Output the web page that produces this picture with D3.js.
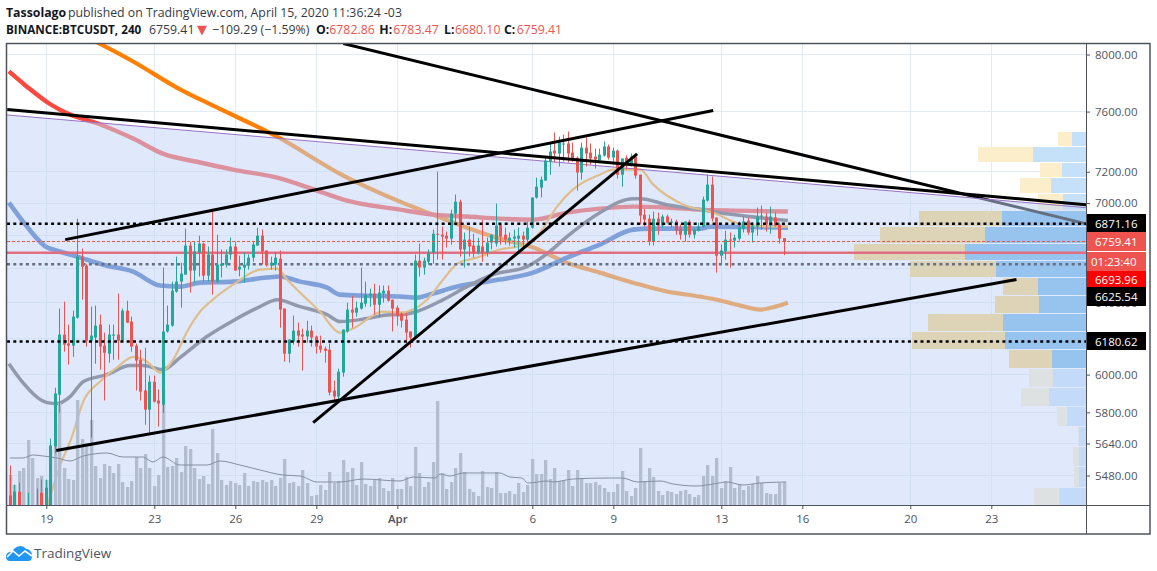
<!DOCTYPE html>
<html><head><meta charset="utf-8">
<script src="https://cdnjs.cloudflare.com/ajax/libs/d3/7.8.5/d3.min.js"></script>
<style>
html,body{margin:0;padding:0;background:#fff;overflow:hidden}
svg{display:block}
text{font-family:"Open Sans","Noto Sans",sans-serif}
</style></head><body>
<svg id="c" width="1157" height="571"></svg>
<script>
// ---------- candles (4h bars, first bar = 18 Mar 00:00) ----------
const opens=[
5382,5300,5401,5250,5200,5320,5230,5396,5250,5300,
5625,5893,6220,6170,6158,6315,6671,6617,6186,6203,
6276,6158,6114,6214,6220,6186,6355,6293,6158,6081,
5915,5814,5962,5862,5840,6237,6270,6465,6523,6564,
6738,6588,6696,6750,6558,6684,6523,6617,6623,6684,
6732,6594,6606,6617,6665,6738,6798,6708,6617,6623,
6659,6367,6114,6181,6242,6220,6209,6242,6209,6158,
6142,6136,5915,5883,6011,6237,6361,6344,6367,6395,
6441,6453,6389,6453,6470,6418,6372,6338,6304,6237,
6203,6647,6606,6641,6696,6810,6804,6798,6780,6934,
7009,6714,6774,6738,6696,6732,6696,6756,6750,6866,
6804,6768,6780,6780,6798,6774,6847,7035,7098,7143,
7266,7338,7319,7378,7385,7325,7292,7195,7358,7325,
7299,7273,7306,7365,7292,7338,7181,7292,7247,7299,
7181,6928,6903,6762,6903,6860,6916,6878,6885,6841,
6804,6885,6804,6829,6853,7016,7117,6910,6677,6702,
6774,6768,6780,6841,6891,6817,6853,6916,6916,6860,
6910,6866,6782.86];
const highs=[
5529,5435,5445,5320,5396,5330,5416,5460,5460,5665,
5930,6367,6407,6276,6355,6903,6720,6625,6378,6384,
6332,6231,6276,6276,6453,6367,6412,6321,6170,6136,
6147,5995,5995,5920,6606,6384,6523,6671,6635,6841,
6762,6762,6798,6755,6732,6965,6804,6714,6714,6786,
6762,6677,6696,6684,6762,6847,6835,6708,6671,6696,
6708,6367,6192,6327,6287,6253,6298,6270,6214,6214,
6153,6170,5968,6032,6248,6401,6441,6407,6606,6523,
6482,6511,6500,6500,6500,6418,6384,6344,6344,6237,
6684,6750,6665,6714,6835,7201,6853,6823,6959,7054,
7022,6817,6853,6810,6786,6897,6786,6804,6997,6866,
6847,6817,6835,6847,6823,6885,7035,7162,7169,7299,
7391,7458,7431,7444,7465,7391,7299,7391,7425,7385,
7352,7352,7398,7378,7358,7345,7286,7306,7319,7306,
7181,6965,6928,6947,6940,6928,6928,6903,6897,6866,
6885,6897,6847,6878,7041,7181,7169,6910,6744,6829,
6817,6804,6885,6916,6910,6878,6972,6984,6940,6978,
6940,6878,6783.47];
const lows=[
5250,5270,5250,5100,5150,5120,5180,5150,5200,5240,
5590,5798,6125,6054,6097,6310,6418,6153,5670,6059,
6027,5862,6065,6081,6081,6181,6287,6125,5915,5862,
5736,5690,5851,5726,5798,6231,6264,6459,6372,6564,
6459,6517,6553,6523,6523,6447,6517,6547,6606,6653,
6588,6553,6517,6594,6641,6738,6623,6611,6594,6588,
6259,6070,6065,6164,6153,6022,6175,6153,6114,6119,
6065,5889,5867,5856,5989,6231,6259,6321,6361,6378,
6378,6332,6321,6401,6407,6237,6270,6259,6175,6147,
6197,6553,6564,6623,6629,6653,6653,6726,6744,6878,
6671,6606,6671,6665,6684,6641,6671,6714,6732,6744,
6744,6738,6726,6684,6726,6756,6841,7028,7035,7143,
7181,7260,7234,7266,7260,7266,7079,7149,7234,7247,
7221,7260,7299,7279,7247,7156,7104,7214,7234,7156,
6866,6853,6738,6738,6804,6847,6872,6847,6804,6774,
6762,6786,6780,6823,6847,7009,6885,6576,6629,6653,
6606,6726,6768,6817,6804,6756,6798,6835,6823,6810,
6853,6750,6680.10];
const closes=[
5300,5401,5300,5200,5320,5200,5310,5250,5420,5630,
5899,6220,6164,6158,6321,6671,6611,6186,6214,6270,
6153,6119,6220,6220,6186,6355,6287,6153,6076,5909,
5814,5962,5856,5846,6237,6276,6470,6523,6570,6738,
6588,6702,6750,6558,6684,6523,6623,6629,6684,6732,
6588,6611,6623,6665,6744,6798,6702,6623,6635,6665,
6361,6114,6192,6242,6214,6209,6242,6203,6153,6136,
6130,5904,5883,6016,6248,6361,6344,6372,6401,6447,
6453,6389,6459,6470,6412,6367,6327,6298,6231,6203,
6647,6606,6647,6696,6810,6804,6792,6780,6934,7009,
6714,6774,6732,6696,6738,6696,6756,6804,6860,6792,
6774,6786,6792,6798,6774,6847,7035,7104,7149,7273,
7332,7319,7391,7385,7319,7286,7195,7358,7319,7286,
7279,7312,7365,7292,7338,7181,7286,7247,7299,7175,
6922,6897,6762,6903,6860,6916,6878,6885,6829,6804,
6885,6804,6835,6853,7022,7117,6903,6677,6708,6774,
6768,6786,6847,6885,6817,6860,6916,6922,6866,6916,
6860,6780,6759.41];
const volumes=[
30,20,34,37,65,47,27,29,25,55,
81,102,37,26,25,105,66,62,85,39,
27,41,39,32,41,23,18,24,48,37,
51,37,19,30,115,38,39,47,33,59,
56,37,26,29,21,76,52,25,20,24,
22,20,32,19,24,23,25,23,25,19,
27,46,22,23,19,35,22,9,10,20,
15,33,22,24,45,33,37,20,43,21,
19,25,27,17,14,27,16,16,28,19,
58,32,18,23,43,104,32,16,23,37,
52,33,16,13,9,34,18,17,33,12,
12,14,11,22,13,20,46,31,31,45,
26,37,24,25,35,19,35,27,22,22,
23,20,17,13,13,21,34,14,9,17,
57,24,37,28,14,10,14,13,11,14,
15,11,8,10,29,40,29,47,17,24,
38,17,21,15,19,21,29,22,12,11,
11,22,23];
// ---------- moving averages (bar position, value) ----------
const orangeBars=[16.6,19.3,27.3,37,45.9,59.3,74,86.6,93.9,101.5,108.8,116.2,123.7,131,138.4,145.9,153.3,157,162.2,166.6,170,172.8];
const orangeMA=[8130,8087,7950,7766,7628,7431,7175,7009,6928,6847,6780,6726,6635,6576,6517,6465,6436,6418,6384,6361,6378,6401];
const redBars=[-0.3,3.7,8.8,12.6,19.3,27.3,33.9,42.2,49.5,59.3,68.2,74,86.6,93.9,101.5,108.8,116.2,123.7,131,138.4,145.9,153.3,160.6,172.8];
const redMA=[7879,7772,7652,7589,7521,7418,7318,7260,7214,7162,7079,7022,6959,6928,6916,6903,6897,6940,6965,6978,6972,6959,6953,6947];
const blueBars=[-0.3,3.7,8.2,9.5,14.8,21.5,27.3,33.3,37.7,42.2,49.5,57,59.9,64.4,70.4,73.3,79.3,86.6,90.3,93.9,99.3,104.4,108.8,116.2,123.7,131,138.4,142.2,153.3,155.5,172.8];
const blueMA=[7003,6854,6726,6714,6671,6617,6582,6500,6494,6517,6523,6547,6553,6523,6488,6447,6441,6436,6430,6453,6494,6517,6535,6576,6665,6744,6835,6841,6841,6853,6847];
const greyBars=[-0.3,2.8,8.2,10.4,13.3,16.2,21.5,26.6,29.5,33.9,37.7,43.7,49.5,55.5,59.3,64.4,70.4,73.3,79.3,84.4,86.6,90.3,96.2,101.5,107.3,114.8,119.9,123.7,131,138.4,140,145.9,153.3,160.6,172.8];
const greyMA=[6059,5957,5851,5846,5883,5962,6000,6049,6049,6027,6092,6209,6298,6378,6418,6378,6332,6293,6310,6332,6332,6350,6418,6494,6565,6611,6702,6792,6940,7028,7028,6990,6959,6928,6891];
const tanBars=[7.5,8.4,11,13.7,16.2,19.9,23.7,27.3,30.4,33.3,36.2,39.3,42.2,45,49.5,55.5,59.3,61.5,64.4,68.8,73.3,76.1,82.8,86.6,92.6,96.2,99.3,103.7,108.8,113.9,117.7,121.5,125,131,133.9,140,142.9,149.6,156.3,160.6,163.7,172.8];
const tanMA=[5260,5339,5524,5675,5856,5962,6038,6097,6070,6011,6081,6237,6350,6418,6505,6594,6600,6535,6459,6350,6231,6253,6350,6344,6418,6535,6629,6665,6714,6738,6817,6978,7085,7181,7214,7214,7117,6990,6940,6885,6860,6853];
const volMABars=[-0.1,2.8,5,7.3,10.4,13.3,16.2,21.5,25,29.5,31.7,33.9,37.7,43.7,46.6,51,55.5,60.6,64.4,68.2,73.3,78.4,86.6,89.5,94.4,95.5,97.7,100.6,108.8,111,113.7,115,119.3,120.6,125,132.6,135.9,139.5,144.4,147.3,152.6,156.2,159.3,162.8,166.6,172.4];
const volMA=[47,47,50,49,47,44,49,52,48,48,43,48,40,40,44,40,35,30,29,23,23,26,24,28,27,31,29,32,32,28,27,22,24,23,26,27,27,23,24,21,19,21,23,20,22,23];
// ---------- volume profile ----------
const vpTop=[7470,7368,7266,7163,7061,6958,6856,6754,6651,6549,6446,6344,6241,6139,6037,5934,5832,5729,5627,5525,5422];
const vpBottom=[7368,7266,7163,7061,6958,6856,6754,6651,6549,6446,6344,6241,6139,6037,5934,5832,5729,5627,5525,5422,5320];
const vpUp=[14,53,24,35,23,84,101,121,90,48,47,83,81,34,33,37,19,7,7,7,27];
const vpDown=[14,55,22,31,25,83,105,111,86,35,44,75,93,43,24,28,10,1,6,5,25];
const vpValueArea=[0,0,0,0,0,1,1,1,1,1,1,1,1,1,0,0,0,0,0,0,0];
// ---------- drawn lines: [bar, price] ----------
const trendTop=[[-0.7,7614],[239.1,6990]];
const pitchEdge=[[-0.7,7577],[239.1,6971]];
const trendFall=[[74,8079],[239.1,6871.16]];
const trendRiseA=[[12.2,6774],[156.2,7607]];
const trendRiseB=[[10.2,5604],[223.6,6535]];
const trendRiseC=[[67.3,5747],[139.3,7316]];
const levelBlack=[6871.16,6180.62];
const levelGrey=[6625.54];
const levelRed=[6693.96];
const lastPrice=6759.41;
// ---------- axes ----------
const priceTicks=[8000,7600,7200,7000,6400,6000,5800,5640,5480];
const gridPrices=[8000,7600,7200,7000,6800,6600,6400,6200,6000,5800,5640,5480];
const dateBars=[8,32,50,68,86,116,134,158,176,200,218];
const dateLabels=["19","23","26","29","Apr","6","9","13","16","20","23"];
const tags=[
 {t:"6871.16",fill:"#000000",top:214,bot:232},
 {t:"6759.41",fill:"#ef5350",top:232,bot:251},
 {t:"01:23:40",fill:"#ef5350",top:252,bot:271},
 {t:"6693.96",fill:"#ff0000",top:271,bot:287},
 {t:"6625.54",fill:"#000000",top:287,bot:306},
 {t:"6180.62",fill:"#000000",top:332,bot:350}];

const L=7,R=1086,T=44,B=505,FR=1150,FB=534;
const svg=d3.select("#c");
const x=d3.scaleLinear().domain([8,218]).range([46.3,991.3]);
const y=d3.scaleLog().domain([8000,5480]).range([54.5,475.5]);
const v=d3.scaleLinear().domain([0,115]).range([505,390]);
const vp=d3.scaleLinear().domain([0,240]).range([R,R-240]);
const axisColor="#50535e", textColor="#50535e";

svg.append("clipPath").attr("id","plot").append("rect").attr("x",L).attr("y",T).attr("width",R-L).attr("height",B-T);
const g=svg.append("g").attr("clip-path","url(#plot)");
// grid
g.selectAll(".gv").data(dateBars).join("line").attr("x1",d=>Math.round(x(d))+.5).attr("x2",d=>Math.round(x(d))+.5).attr("y1",T).attr("y2",B).attr("stroke","#e1ecf2");
g.selectAll(".gh").data(gridPrices).join("line").attr("x1",L).attr("x2",R).attr("y1",d=>Math.floor(y(d))+.5).attr("y2",d=>Math.floor(y(d))+.5).attr("stroke","#e1ecf2");
// volume profile
const vpRows=vpTop.map((t,i)=>({t,b:vpBottom[i],u:vpUp[i],d:vpDown[i],va:vpValueArea[i]}));
g.selectAll(".vpu").data(vpRows).join("rect").attr("x",d=>vp(d.u)).attr("width",d=>R-vp(d.u))
 .attr("y",d=>Math.round(y(d.t))+1).attr("height",d=>Math.round(y(d.b))-Math.round(y(d.t))-1)
 .attr("fill",d=>d.va?"#6aafe5":"#c5e1f9");
g.selectAll(".vpd").data(vpRows).join("rect").attr("x",d=>vp(d.u+d.d)).attr("width",d=>vp(d.u)-vp(d.u+d.d))
 .attr("y",d=>Math.round(y(d.t))+1).attr("height",d=>Math.round(y(d.b))-Math.round(y(d.t))-1)
 .attr("fill",d=>d.va?"#fad270":"#fdeecb");
// lines below the shaded channel
const line=d3.line().x(d=>x(d[0])).y(d=>y(d[1]));
const ma=(bars,vals)=>bars.map((b,i)=>[b,vals[i]]);
const smooth=d3.line().x(d=>x(d[0])).y(d=>y(d[1])).curve(d3.curveMonotoneX);
[[orangeBars,orangeMA,"#ff7f00",4.2],[redBars,redMA,"#f9483e",4.4],[blueBars,blueMA,"#3a68b8",4.6],[greyBars,greyMA,"#5e595f",3.5],[tanBars,tanMA,"#ffa51b",2.2]]
.forEach(([b,m,c,w])=>g.append("path").attr("d",smooth(ma(b,m))).attr("fill","none").attr("stroke",c).attr("stroke-width",w).attr("stroke-linejoin","round"));
g.append("path").attr("d",line(trendFall)).attr("stroke","#000").attr("stroke-width",3).attr("fill","none");
g.selectAll(".lr").data(levelRed).join("line").attr("x1",L).attr("x2",R).attr("y1",d=>y(d)).attr("y2",d=>y(d)).attr("stroke","#ff0000").attr("stroke-width",2.5);
g.selectAll(".lg").data(levelGrey).join("line").attr("x1",L).attr("x2",R).attr("y1",d=>y(d)).attr("y2",d=>y(d)).attr("stroke","#000").attr("stroke-width",2.5).attr("stroke-dasharray","3 3.3");
// shaded channel
const area=d3.area().x(d=>x(d[0])).y1(d=>y(d[1])).y0(B);
g.append("path").attr("d",area(pitchEdge)).attr("fill","rgb(193,213,247)").attr("fill-opacity",.52);
g.append("path").attr("d",line(pitchEdge)).attr("stroke","#9a70c4").attr("stroke-width",1).attr("fill","none");
// volume
g.selectAll(".vol").data(volumes).join("rect").attr("x",(d,i)=>Math.round(x(i)-1.5)).attr("width",3.3)
 .attr("y",d=>v(d)).attr("height",d=>B-v(d)).attr("fill","#b2bdcf");
g.append("path").attr("d",d3.line().x(d=>x(d[0])).y(d=>v(d[1])).curve(d3.curveMonotoneX)(ma(volMABars,volMA))).attr("fill","none").attr("stroke","#868fa3").attr("stroke-width",1);
// candles
const up="#26a69a",dn="#ef5350";
const col=i=>closes[i]>=opens[i]?up:dn;
const cg=g.append("g");
cg.selectAll(".wick").data(opens).join("rect").attr("x",(d,i)=>Math.round(x(i)-1.5)+1).attr("width",1)
 .attr("y",(d,i)=>y(highs[i])).attr("height",(d,i)=>y(lows[i])-y(highs[i])).attr("fill",(d,i)=>col(i));
cg.selectAll(".body").data(opens).join("rect").attr("x",(d,i)=>Math.round(x(i)-1.5)).attr("width",3)
 .attr("y",(d,i)=>y(Math.max(d,closes[i]))).attr("height",(d,i)=>Math.max(1,Math.abs(y(d)-y(closes[i])))).attr("fill",(d,i)=>col(i));
// levels on top
g.selectAll(".lb").data(levelBlack).join("line").attr("x1",L).attr("x2",R).attr("y1",d=>y(d)).attr("y2",d=>y(d)).attr("stroke","#000").attr("stroke-width",2.5).attr("stroke-dasharray","3 3.3");
g.append("line").attr("x1",L).attr("x2",R).attr("y1",Math.round(y(lastPrice))-.5).attr("y2",Math.round(y(lastPrice))-.5).attr("stroke","#ef5350").attr("stroke-width",1).attr("stroke-dasharray","3 2");
// trend lines
[trendTop,trendRiseA,trendRiseB,trendRiseC].forEach(t=>g.append("path").attr("d",line(t)).attr("stroke","#000").attr("stroke-width",3).attr("fill","none"));

// axes
const ay=svg.append("g").attr("transform",`translate(${R},0)`).call(d3.axisRight(y).tickValues(priceTicks).tickFormat(d=>d.toFixed(2)).tickSize(4).tickPadding(5));
const ax=svg.append("g").attr("transform",`translate(0,${B})`).call(d3.axisBottom(x).tickValues(dateBars).tickFormat((d,i)=>dateLabels[i]).tickSize(4).tickPadding(6));
[ay,ax].forEach(a=>{a.select(".domain").remove();a.selectAll("line").attr("stroke",axisColor);a.selectAll("text").attr("fill",textColor).style("font-size","11.5px").style("font-family",'"Open Sans",sans-serif');});
ax.selectAll("text").filter(function(){return d3.select(this).text()==="Apr"}).style("font-weight","600");
// frame
svg.append("rect").attr("x",6.5).attr("y",43.5).attr("width",FR-6.5).attr("height",FB-43.5).attr("fill","none").attr("stroke",axisColor).attr("stroke-width",1.5);
svg.append("line").attr("x1",R+.5).attr("x2",R+.5).attr("y1",43).attr("y2",FB).attr("stroke",axisColor);
svg.append("line").attr("x1",6).attr("x2",FR).attr("y1",B+.5).attr("y2",B+.5).attr("stroke",axisColor);
// price tags
tags.forEach(t=>{
 svg.append("rect").attr("x",R+1).attr("y",t.top).attr("width",1146-R-1).attr("height",t.bot-t.top).attr("fill",t.fill);
 svg.append("text").attr("x",t.t.includes(":")?1091:1095).attr("y",(t.top+t.bot)/2+4.5).attr("fill","#fff").style("font-size","11.5px").text(t.t);
});
// header
const fs="12.3px", fb="11.7px";
const h1=svg.append("text").attr("x",6).attr("y",17).style("font-size",fs).attr("fill","#131722");
h1.append("tspan").style("font-weight","700").text("Tassolago");
h1.append("tspan").attr("x",68).attr("fill","#363a45").text("published on TradingView.com, April 15, 2020 11:36:24 -03");
const h2=svg.append("text").attr("x",6).attr("y",34).style("font-size",fs).attr("fill","#131722");
h2.append("tspan").style("font-weight","700").style("font-size",fb).text("BINANCE:BTCUSDT, 240");
h2.append("tspan").attr("x",149).attr("fill","#363a45").text("6759.41");
h2.append("tspan").attr("x",197).attr("fill","#ef5350").style("font-family","DejaVu Sans").style("font-size","13px").text("▼");
h2.append("tspan").attr("x",212).attr("fill","#363a45").text("−109.29 (−1.59%)");
[["O:","6782.86",316,329.3],["H:","6783.47",379.3,393.3],["L:","6680.10",444,455],["C:","6759.41",504,516.7]].forEach(([k,val,a,b])=>{
 h2.append("tspan").attr("x",a).style("font-weight","700").text(k);
 h2.append("tspan").attr("x",b).attr("fill","#ef5350").text(val);
});
// logo
const logo=svg.append("g");
logo.append("path").attr("d","M7,560 C4,555 8,551 12,552 C14,547 22,543 26,549 C31,549 34,555 31,560 Q30,561 28,561 L10,561 Q8,561 7,560Z").attr("fill","#2196f3");
logo.append("path").attr("d","M7,557 L13,551 L19,556 L25,551 L32,556").attr("fill","none").attr("stroke","#fff").attr("stroke-width",1.6);
svg.append("text").attr("x",34).attr("y",558).attr("fill","#50535e").style("font-size","13.5px").text("TradingView");
</script>
</body></html>
